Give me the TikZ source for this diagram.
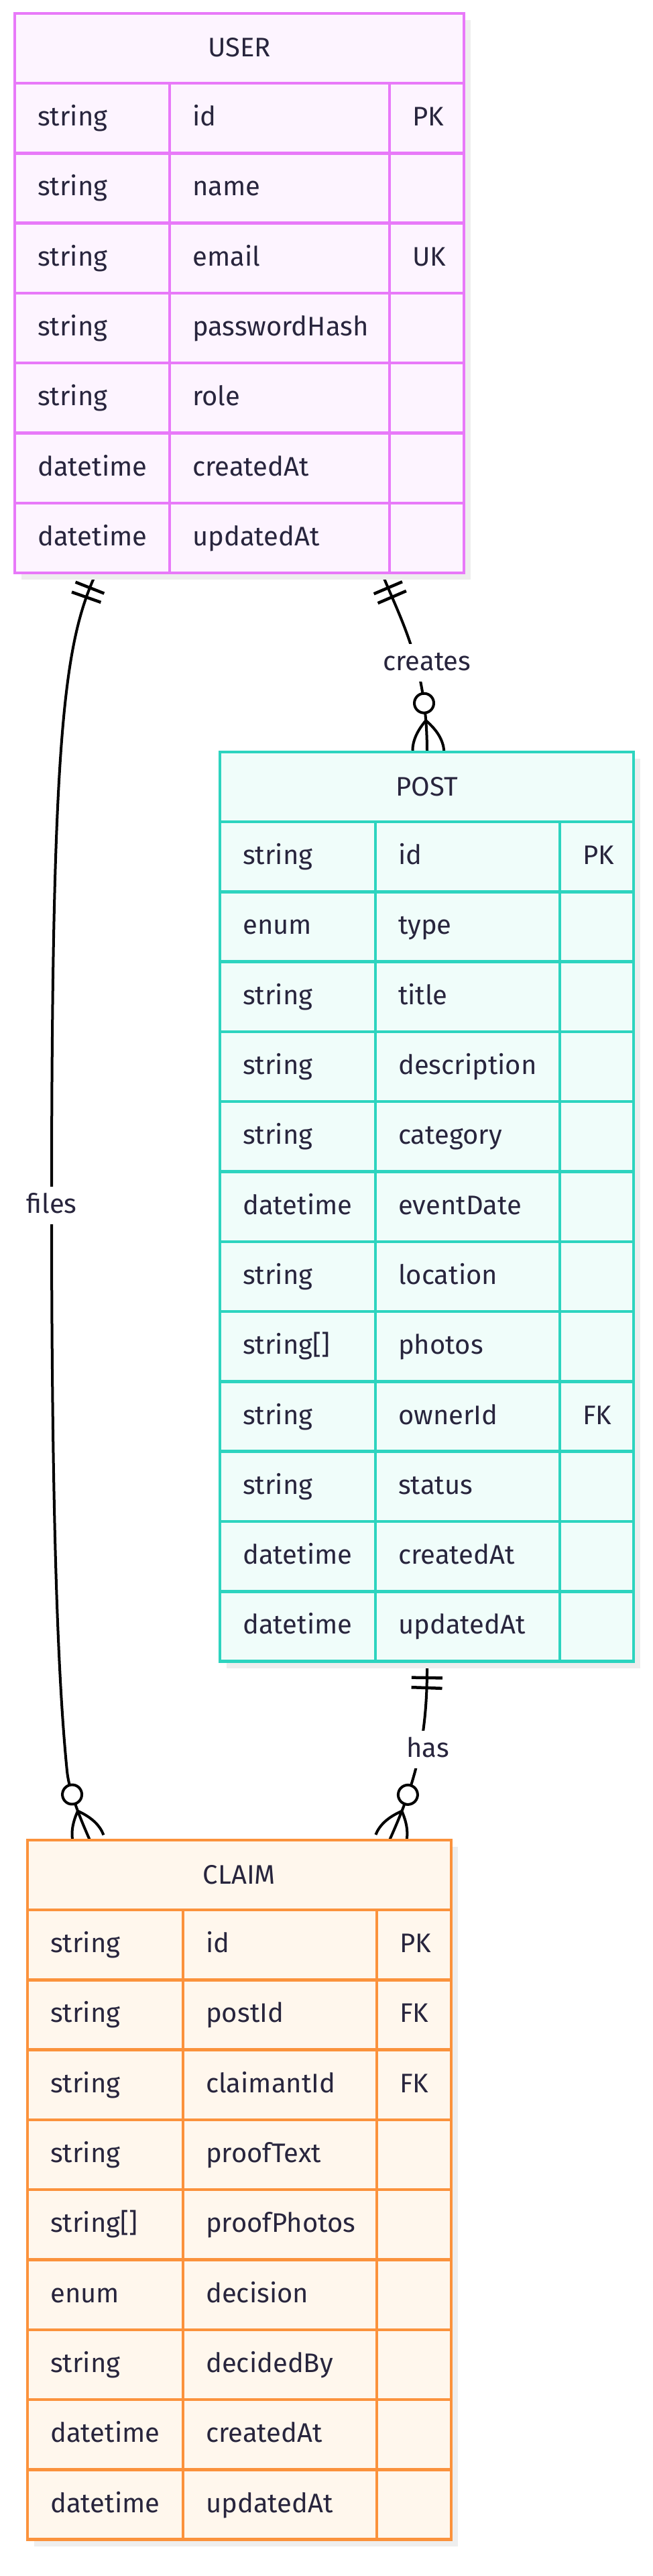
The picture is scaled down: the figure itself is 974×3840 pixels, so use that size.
\documentclass[tikz,border=0pt]{standalone}
\usepackage{fontspec}
\setmainfont{Fira Sans}
\usetikzlibrary{decorations.markings}
\definecolor{txt}{HTML}{28253D}
\definecolor{userB}{HTML}{E879F9}
\definecolor{userF}{HTML}{FDF4FF}
\definecolor{postB}{HTML}{2DD4BF}
\definecolor{postF}{HTML}{F0FDFA}
\definecolor{claimB}{HTML}{FB923C}
\definecolor{claimF}{HTML}{FFF7ED}
\definecolor{shadowc}{HTML}{EEEEEE}
\tikzset{
  erfont/.style={font=\fontsize{40}{48}\selectfont, text=txt},
  celltext/.style={erfont, inner sep=0pt, anchor=base west},
  headtext/.style={erfont, inner sep=0pt, anchor=base},
  entitybox/.style={anchor=north west, inner sep=0pt, outer sep=0pt, line width=4.5pt},
  gridline/.style={line width=4.5pt},
  lbl/.style={erfont, fill=white, anchor=base, inner xsep=3pt, inner ysep=9pt, text height=30pt, text depth=8pt},
  edge/.style={line width=4pt, draw=black},
  onlyone/.style={postaction={decorate, decoration={markings,
     mark=at position 23pt with {\draw[line width=4.5pt] (0pt,-23pt) -- (0pt,23pt);},
     mark=at position 38pt with {\draw[line width=4.5pt] (0pt,-23pt) -- (0pt,23pt);}}}},
  zeromany/.style={postaction={decorate, decoration={markings,
     mark=at position -73pt with {\draw[line width=4pt, fill=white] (0pt,0pt) circle (14.5pt);},
     mark=at position -47pt with {\draw[line width=4pt] (0pt,0pt) .. controls (15.6pt,15.6pt) and (31.2pt,23.4pt) .. (47pt,23.4pt);
        \draw[line width=4pt] (0pt,0pt) .. controls (15.6pt,-15.6pt) and (31.2pt,-23.4pt) .. (47pt,-23.4pt);}}}}
}
\newcommand\erentity[9]{%
  \pgfmathsetmacro\erH{104+#8*104.3}%
  \pgfmathsetmacro\erW{#6-#3}%
  \pgfmathsetmacro\erB{#7+\erH}%
  \fill[shadowc] (#3+10,#7+10) rectangle (#6+10,\erB+10);
  \node[entitybox, draw=#1B, fill=#1F, minimum width=\erW pt, minimum height=\erH pt] (#1) at (#3,#7) {};
  \node[headtext] (#1-title) at ({(#3+#6)/2},#7+65) {#2};
  \draw[gridline, draw=#1B] (#3,#7+104) -- (#6,#7+104);
  \draw[gridline, draw=#1B] (#4,#7+104) -- (#4,\erB);
  \draw[gridline, draw=#1B] (#5,#7+104) -- (#5,\erB);
  \foreach \ty/\nm/\ky [count=\i] in {#9} {
    \pgfmathsetmacro\yc{#7+104+(\i-0.5)*104.3}
    \ifnum\i<#8 \draw[gridline, draw=#1B] (#3,\yc+52.15) -- (#6,\yc+52.15); \fi
    \node[celltext] (#1-t\i) at (#3+34,\yc+11.5) {\ty};
    \node[celltext] (#1-n\i) at (#4+34,\yc+11.5) {\nm};
    \node[celltext] (#1-k\i) at (#5+34,\yc+11.5) {\ky};
  }
  \draw[entitybox, draw=#1B] (#3,#7) rectangle (#6,\erB);
}
\begin{document}
\begin{tikzpicture}[x=1pt,y=-1pt]
\useasboundingbox (0,0) rectangle (974,3840);
% connector end points
\coordinate (uf) at (143,855);
\coordinate (uc) at (570,855);
\coordinate (pc) at (637,1121);
\coordinate (ph) at (637,2478);
\coordinate (cf) at (134,2743);
\coordinate (ch) at (581,2743);
\coordinate (fmid) at (77,1797);
\coordinate (fbend) at (100,2640);
% connectors
\draw[edge, onlyone] (uf) .. controls (95,960) and (77,1100) .. (fmid);
\draw[edge, zeromany] (fmid) .. controls (77,2300) and (88,2520) .. (fbend) .. controls (103,2670) and (119,2709) .. (cf);
\draw[edge, onlyone, zeromany] (uc) .. controls (598,925) and (637,990) .. (pc);
\draw[edge, onlyone, zeromany] (ph) .. controls (638,2600) and (616,2665) .. (ch);
% labels
\node[lbl] (lfiles) at (77,1808) {files};
\node[lbl] (lcreates) at (637,999) {creates};
\node[lbl] (lhas) at (638,2619) {has};
% entities
\erentity{user}{USER}{22}{253}{581}{692}{20}{7}{string/id/PK, string/name/{}, string/email/UK, string/passwordHash/{}, string/role/{}, datetime/createdAt/{}, datetime/updatedAt/{}}
\erentity{post}{POST}{328}{560}{835}{945}{1121}{12}{string/id/PK, enum/type/{}, string/title/{}, string/description/{}, string/category/{}, datetime/eventDate/{}, string/location/{}, {string[]}/photos/{}, string/ownerId/FK, string/status/{}, datetime/createdAt/{}, datetime/updatedAt/{}}
\erentity{claim}{CLAIM}{41}{273}{562}{673}{2743}{9}{string/id/PK, string/postId/FK, string/claimantId/FK, string/proofText/{}, {string[]}/proofPhotos/{}, enum/decision/{}, string/decidedBy/{}, datetime/createdAt/{}, datetime/updatedAt/{}}
\end{tikzpicture}
\end{document}
